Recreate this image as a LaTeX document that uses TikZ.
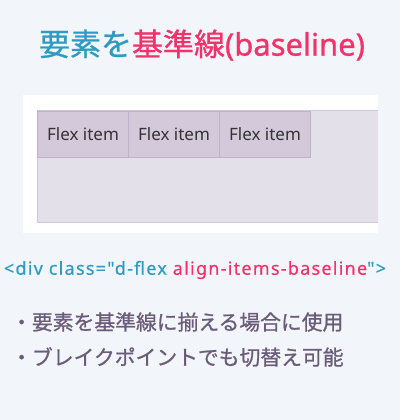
\documentclass[tikz,border=0pt]{standalone}
\usepackage{fontspec}
\setmainfont{Noto Sans CJK JP}
\newfontfamily\semifont[FakeBold=0.9]{Noto Sans CJK JP}
\newfontfamily\latinfont{Noto Sans}
\newfontfamily\latinsemi[FakeBold=0.9]{Noto Sans}
\newfontfamily\codefont[LetterSpace=7,FakeBold=0.4]{Noto Sans}
\usepackage{tikz}
\usetikzlibrary{positioning}
\definecolor{bgblue}{HTML}{F2F6FA}
\definecolor{teal}{HTML}{2E9CC2}
\definecolor{pink}{HTML}{F2336B}
\definecolor{boxfill}{HTML}{E4E0EA}
\definecolor{boxline}{HTML}{D2C6DA}
\definecolor{itemfill}{HTML}{D3C9DA}
\definecolor{itemline}{HTML}{C0B1CA}
\definecolor{notecol}{HTML}{6B5C7A}
\tikzset{
  flexitem/.style={draw=itemline, fill=itemfill, minimum width=91pt, minimum height=46pt,
    inner sep=0pt, font=\latinfont\fontsize{17}{19}\selectfont, text=black!80},
  note/.style={anchor=west, inner sep=0pt, text=notecol, font=\semifont\fontsize{20.8}{23}\selectfont}
}

\begin{document}
\begin{tikzpicture}[x=1pt,y=-1pt] % baseline
         \fill[bgblue](0,0) rectangle (400,420);
         \useasboundingbox (0,0) rectangle (400,420);
         \node[font=\semifont\fontsize{31}{34}\selectfont, inner sep=0pt] (title) at (202,45)
              {\textcolor{teal}{要素を}\textcolor{pink}{基準線{\latinsemi(baseline)}}};
         \fill[white](23,95) rectangle (378,233);
         \filldraw[draw=boxline, fill=boxfill](37.5,110.5) rectangle (378,222.5);
         \node[flexitem] (item1) at (83,134) {Flex item};
         \node[flexitem] (item2) at (174,134) {Flex item};
         \node[flexitem] (item3) at (265,134) {Flex item};
         \fill[bgblue](378,95) rectangle (400,233);
         \node[font=\codefont\fontsize{18}{21}\selectfont, inner sep=0pt] (code) at (195,270)
              {\textcolor{teal}{<div class="d-flex }\textcolor{pink}{align-items-baseline}\textcolor{teal}{">}};
         \node[note] (note1) at (11,322) {・要素を基準線に揃える場合に使用};
         \node[note] (note2) at (11,357) {・ブレイクポイントでも切替え可能};
      \end{tikzpicture}
\end{document}
